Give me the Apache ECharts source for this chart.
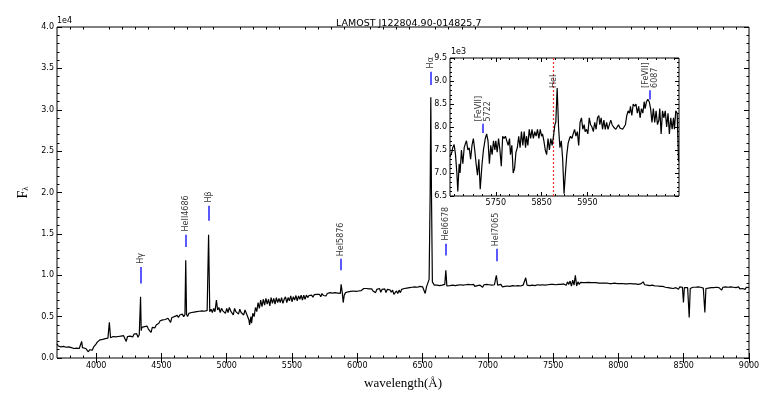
<!DOCTYPE html>
<html>
<head>
<meta charset="utf-8">
<script src="https://cdn.jsdelivr.net/npm/echarts@6/dist/echarts.min.js"></script>
<style>
html, body { margin: 0; padding: 0; background: #fff; }
#chart { width: 763px; height: 395px; }
</style>
</head>
<body>
<div id="chart"></div>
<script>
// spectrum (flux in counts, axis shows /1e4)
const wave = [3700,3710,3720,3730,3740,3750,3760,3770,3780,3790,3800,3810,3820,3830,3840,3850,3860,3870,3880,3889,3895,3910,3920,3930,3940,3950,3960,3970,3980,3990,
  4000,4010,4020,4030,4040,4050,4060,4070,4080,4090,4101,4110,4120,4130,4140,4150,4160,4170,4180,4190,4200,4210,4220,4230,4240,4250,4260,4270,4280,4290,
  4300,4310,4320,4330,4340,4345,4350,4360,4370,4380,4390,4400,4410,4420,4430,4440,4450,4460,4470,4480,4490,4500,4510,4520,4530,4540,4550,4560,4570,4580,
  4590,4600,4610,4620,4630,4640,4650,4660,4670,4680,4686,4692,4700,4710,4720,4730,4740,4750,4760,4770,4780,4790,4800,4810,4820,4830,4840,4850,4861,4870,
  4880,4890,4900,4910,4921,4930,4940,4950,4960,4970,4980,4990,5000,5010,5020,5030,5040,5050,5060,5070,5080,5090,5100,5110,5120,5130,5140,5150,5160,5170,
  5175,5185,5190,5200,5210,5220,5230,5240,5250,5260,5270,5280,5290,5300,5310,5320,5330,5340,5350,5360,5370,5380,5390,5400,5410,5420,5430,5440,5450,5460,
  5470,5480,5490,5500,5510,5520,5530,5540,5550,5560,5570,5580,5590,5600,5610,5620,5630,5640,5650,5660,5670,5680,5690,5700,5710,5720,5730,5740,5750,5760,
  5770,5780,5790,5800,5810,5820,5830,5840,5850,5860,5870,5876,5885,5892,5900,5910,5920,5930,5940,5950,5960,5970,5980,5990,6000,6010,6020,6030,6040,6050,
  6060,6070,6080,6090,6100,6110,6120,6130,6140,6150,6160,6170,6180,6190,6200,6210,6220,6230,6240,6250,6260,6270,6280,6290,6300,6310,6320,6330,6340,6350,
  6360,6370,6380,6390,6400,6410,6420,6430,6440,6450,6460,6470,6480,6490,6500,6510,6520,6530,6540,6550,6558,6563,6568,6575,6590,6600,6610,6620,6630,6640,
  6650,6660,6670,6678,6686,6700,6710,6720,6730,6740,6750,6760,6770,6780,6790,6800,6810,6820,6830,6840,6850,6860,6870,6880,6890,6900,6910,6920,6930,6940,
  6950,6960,6970,6980,6990,7000,7010,7020,7030,7040,7050,7065,7075,7090,7100,7110,7120,7130,7140,7150,7160,7170,7180,7190,7200,7210,7220,7230,7240,7250,
  7260,7270,7280,7290,7300,7310,7320,7330,7340,7350,7360,7370,7380,7390,7400,7410,7420,7430,7440,7450,7460,7470,7480,7490,7500,7510,7520,7530,7540,7550,
  7560,7570,7580,7590,7600,7610,7620,7630,7640,7650,7660,7670,7680,7690,7700,7710,7720,7730,7740,7750,7760,7770,7780,7790,7800,7810,7820,7830,7840,7850,
  7860,7870,7880,7890,7900,7910,7920,7930,7940,7950,7960,7970,7980,7990,8000,8010,8020,8030,8040,8050,8060,8070,8080,8090,8100,8110,8120,8130,8140,8150,
  8160,8170,8180,8190,8200,8210,8220,8230,8240,8250,8260,8270,8280,8290,8300,8310,8320,8330,8340,8350,8360,8370,8380,8390,8400,8410,8420,8430,8440,8450,
  8460,8470,8480,8490,8498,8505,8520,8530,8542,8550,8560,8570,8580,8590,8600,8610,8620,8630,8640,8650,8662,8670,8680,8690,8700,8710,8720,8730,8740,8750,
  8760,8770,8780,8790,8800,8810,8820,8830,8840,8850,8860,8870,8880,8890,8900,8910,8920,8930,8940,8950,8960,8970,8980,8990,9000];
const flux = [1700,1450,1600,1350,1500,1400,1550,1300,1450,1350,1500,1250,1400,1150,1300,1200,1350,1150,1300,2000,1250,1350,1150,1250,750,1000,1100,950,1300,1500,
  1700,1950,2050,2200,2100,2250,2200,2350,2250,2400,4300,2450,2350,2600,2450,2550,2450,2600,2500,2650,2500,2700,2600,2000,2600,2750,2650,2800,2550,2900,
  2700,2950,2500,2800,7400,3300,3700,3500,3800,3600,3850,3500,3650,3100,3700,3850,3650,4000,3900,4200,4500,4350,4600,4400,4650,4500,4800,4600,4300,4900,
  4750,5000,4800,5150,4900,5200,5050,5300,5000,5250,11800,5300,5000,5400,5200,5500,5300,5550,5350,5600,5400,5650,5450,5700,5500,5650,5550,5750,14900,5600,
  5900,5500,6000,5600,7000,5800,6100,5500,6000,5700,5900,5400,6000,5500,6100,5700,5900,5200,6000,5600,5800,5300,5900,5500,5700,5200,5800,5400,5600,4600,
  4000,5000,4200,5400,5000,6100,5600,6700,6000,7000,6200,7100,6400,7200,6500,7100,6300,7300,6600,7200,6500,7300,6700,7200,6700,7300,6600,7100,7400,6700,
  7300,6900,7500,6800,7400,7000,7550,6900,7500,7100,7600,7000,7600,7100,7600,7300,7550,7400,7600,7350,7650,7450,7700,7500,7700,7400,7800,7550,7750,7500,
  7800,7600,7900,7700,7850,7650,7900,7750,7850,7700,7800,8900,7900,6700,7600,7900,7850,8000,7900,8050,7950,8100,7950,8050,8000,8100,8050,8150,8100,8400,
  8250,8400,8300,8350,8200,8350,8100,8300,7900,8300,8200,8400,7950,8300,8100,8350,7900,8300,8150,8250,7950,8200,7700,7900,8100,7800,8200,7900,8300,8100,
  8400,8200,8450,8300,8500,8350,8550,8400,8600,8450,8550,8500,8650,8500,8600,8550,7800,8600,8700,9500,20000,31500,20000,9200,8800,8600,8800,8600,8750,8650,
  8800,8700,8900,10600,8700,8650,8750,8600,8800,8700,8750,8650,8800,8700,8850,8700,8800,8650,8850,8750,8900,8700,8850,8750,8900,8650,8850,8750,8900,8800,
  8850,8550,8850,8700,8900,8700,8850,8750,8800,8650,8850,10000,8800,8700,8900,8600,8800,8650,8850,8700,8900,8650,8850,8750,8900,8700,8850,8750,8900,8700,
  8850,8800,8950,9700,8800,8900,8750,8950,8800,8900,8750,8950,8850,8950,8800,8950,8850,9000,8800,8950,8850,9000,8900,9050,8900,9000,8850,9050,8900,9100,
  8900,9050,8950,9150,8800,9200,8900,9300,8700,9400,8800,10000,8700,9200,8900,9150,8950,9100,8950,9100,9000,9150,8950,9100,9000,9100,8950,9100,8950,9050,
  8900,9050,8850,9050,8950,9050,8900,9000,8850,9000,8900,9050,8850,9000,8900,9000,8800,9000,8850,8950,8800,8950,8850,9000,8800,8950,8750,8950,8850,8900,
  8800,8950,8850,9200,8850,8950,8800,8900,8750,8900,8800,8850,8700,8850,8700,8850,8650,8800,8650,8750,8550,8700,8500,8650,8450,8650,8400,8600,8500,8650,
  8300,8600,8400,8550,6700,8500,8600,8500,4900,8400,8600,8550,8650,8550,8650,8600,8650,8550,8600,8450,5500,8400,8550,8450,8600,8500,8650,8500,8600,8550,
  8600,8500,8600,8200,8550,8450,8600,8500,8550,8400,8600,8450,8550,8450,8500,8400,8600,8350,8550,8400,8550,8300,8550,8400,8500];

// zoomed region around HeI 5876
const insetWave = [5650,5654,5656,5659,5662,5665,5667,5670,5672,5675,5678,5681,5684,5686,5689,5692,5695,5698,5701,5704,5707,5710,5713,5716,5720,5723,5727,
  5730,5733,5736,5739,5742,5745,5748,5750,5753,5756,5759,5762,5765,5768,5771,5774,5777,5780,5782,5785,5788,5791,5794,5797,5800,5803,5806,5809,5812,5815,5817,
  5820,5823,5826,5829,5832,5835,5838,5841,5844,5847,5850,5852,5855,5858,5861,5864,5867,5870,5873,5876,5879,5881,5884,5887,5890,5893,5896,5899,5902,5905,5908,
  5911,5913,5916,5919,5922,5925,5928,5931,5934,5937,5940,5943,5945,5948,5951,5954,5957,5960,5963,5966,5969,5972,5975,5977,5980,5983,5986,5989,5992,5995,5998,
  6001,6004,6007,6009,6012,6015,6018,6021,6024,6027,6030,6033,6036,6039,6042,6044,6047,6050,6053,6056,6059,6062,6065,6068,6071,6074,6076,6079,6082,6085,6088,
  6091,6094,6097,6100,6103,6106,6108,6111,6114,6117,6120,6123,6126,6129,6132,6135,6138,6140,6143,6146,6149];
const insetFlux = [7350,7450,7550,7620,7400,7000,6600,7200,7000,7500,7200,7550,7650,7700,7500,7550,7300,7600,7750,7500,7200,6950,7300,6650,7200,7500,7750,
  7850,7700,7200,7600,7400,7700,7500,7700,7450,7750,7500,7150,7800,7750,7800,7700,7600,7750,7400,7600,7000,7100,7450,7550,7800,7550,7900,7600,7900,7550,7800,
  7600,7950,7750,7950,7750,7900,7800,7950,7750,7950,7800,7850,7700,7500,7400,7750,7500,7750,7600,7800,8050,8100,8850,8000,7550,7700,7300,6550,7000,7400,7650,
  7750,7800,7750,7850,7950,7800,7900,7600,8100,8200,7950,8050,7900,7950,7850,8200,8050,8000,7900,8100,7950,8200,8250,8050,8200,7950,8150,7950,8100,7950,8050,
  8150,8050,8000,8000,7950,7950,8050,7980,8000,7950,8000,8050,8250,8350,8300,8450,8250,8500,8450,8500,8300,8450,8200,8400,8300,8550,8400,8550,8600,8550,8400,
  8100,8400,8100,8350,8050,8150,8400,7850,8350,8200,8350,8000,8300,7850,8200,7950,8200,7950,8350,8300,7250];

// emission line markers in the main panel
const lineNames = ['Hγ', 'HeII4686', 'Hβ', 'HeI5876', 'Hα', 'HeI6678', 'HeI7065'];
const lineWaves = [4340, 4686, 4861, 5876, 6563, 6678, 7065];
const markLo = [9000, 13400, 16600, 10600, 33000, 12400, 11700];
const markHi = [11000, 14900, 18400, 12000, 34600, 13800, 13200];
const labelAt = [11400, 15300, 18800, 12300, 35000, 14200, 13500];

// markers in the inset
const insetNames = ['[FeVII]\n5722', 'HeI', '[FeVII]\n6087'];
const insetLineWaves = [5722, 5876, 6087];
const insetMarkWaves = [5722, 6087];
const insetMarkLo = [7870, 8600];
const insetMarkHi = [8070, 8800];
const insetLabelAt = [8120, 8850, 8850];
const heIWave = 5876;

const mainXTicks = [4000, 4500, 5000, 5500, 6000, 6500, 7000, 7500, 8000, 8500, 9000];
const insetXTicks = [5750, 5850, 5950];

const mainXMinor = [];
for (let v = 3800; v < 9000; v += 100) if (v % 500 !== 0) mainXMinor.push(v);
const insetXMinor = [];
for (let v = 5660; v < 6150; v += 20) if ((v - 5750) % 100 !== 0) insetXMinor.push(v);

const sans = 'DejaVu Sans';
const fs = 8;

function tickAxis(extra) {
  return Object.assign({
    type: 'value',
    axisLine: { show: false },
    splitLine: { show: false },
    axisLabel: { show: false },
    axisTick: { show: true, inside: true, length: 5, lineStyle: { color: '#000' } }
  }, extra);
}
function ticks(values, len) {
  return { show: true, inside: true, length: len, customValues: values, lineStyle: { color: '#000' } };
}

const chart = echarts.init(document.getElementById('chart'));

const option = {
  animation: false,
  backgroundColor: '#fff',
  title: {
    text: 'LAMOST J122804.90-014825.7',
    left: 331, top: 14,
    textStyle: { fontFamily: sans, fontSize: 9.5, fontWeight: 'normal', color: '#000' }
  },
  grid: [
    { left: 57, right: 14, top: 27, bottom: 33, show: true, borderColor: '#000', borderWidth: 1 },
    { left: 450, top: 58, width: 229, height: 138, show: true, borderColor: '#000', borderWidth: 1,
      backgroundColor: '#fff', z: 5 }
  ],
  xAxis: [
    tickAxis({ gridIndex: 0, position: 'bottom', min: 3700, max: 9000,
      axisLabel: { show: true, customValues: mainXTicks, fontFamily: sans, fontSize: fs, color: '#000', margin: 4,
        formatter: v => String(v) },
      axisTick: ticks(mainXTicks, 5),
      name: 'wavelength(Å)', nameLocation: 'middle', nameGap: 19,
      nameTextStyle: { fontFamily: 'Liberation Serif', fontSize: 13, color: '#000' } }),
    tickAxis({ gridIndex: 0, position: 'top', min: 3700, max: 9000, axisTick: ticks(mainXTicks, 5) }),
    tickAxis({ gridIndex: 0, position: 'bottom', min: 3700, max: 9000, axisTick: ticks(mainXMinor, 2.5) }),
    tickAxis({ gridIndex: 0, position: 'top', min: 3700, max: 9000, axisTick: ticks(mainXMinor, 2.5) }),
    tickAxis({ gridIndex: 1, position: 'bottom', min: 5650, max: 6150, z: 6,
      axisLabel: { show: true, customValues: insetXTicks, fontFamily: sans, fontSize: fs, color: '#000', margin: 3,
        formatter: v => String(v) },
      axisTick: ticks(insetXTicks, 4) }),
    tickAxis({ gridIndex: 1, position: 'top', min: 5650, max: 6150, z: 6, axisTick: ticks(insetXTicks, 4) }),
    tickAxis({ gridIndex: 1, position: 'bottom', min: 5650, max: 6150, z: 6, axisTick: ticks(insetXMinor, 2) }),
    tickAxis({ gridIndex: 1, position: 'top', min: 5650, max: 6150, z: 6, axisTick: ticks(insetXMinor, 2) })
  ],
  yAxis: [
    tickAxis({ gridIndex: 0, position: 'left', min: 0, max: 40000, interval: 5000,
      axisLabel: { show: true, fontFamily: sans, fontSize: fs, color: '#000', margin: 3,
        formatter: v => (v / 1e4).toFixed(1) },
      minorTick: { show: true, splitNumber: 5, length: 2.5, lineStyle: { color: '#000' } },
      name: '{f|F}{l|λ}', nameLocation: 'middle', nameGap: 24, nameRotate: 90,
      nameTextStyle: { rich: {
        f: { fontFamily: 'Liberation Serif', fontSize: 14, color: '#000' },
        l: { fontFamily: 'Liberation Serif', fontSize: 9, color: '#000', padding: [6, 0, 0, 0] } } } }),
    tickAxis({ gridIndex: 0, position: 'right', min: 0, max: 40000, interval: 5000,
      minorTick: { show: true, splitNumber: 5, length: 2.5, lineStyle: { color: '#000' } } }),
    tickAxis({ gridIndex: 1, position: 'left', min: 6500, max: 9500, interval: 500, z: 6,
      axisLabel: { show: true, fontFamily: sans, fontSize: fs, color: '#000', margin: 3,
        formatter: v => (v / 1e3).toFixed(1) },
      axisTick: { show: true, inside: true, length: 4, lineStyle: { color: '#000' } },
      minorTick: { show: true, splitNumber: 5, length: 2, lineStyle: { color: '#000' } } }),
    tickAxis({ gridIndex: 1, position: 'right', min: 6500, max: 9500, interval: 500, z: 6,
      axisTick: { show: true, inside: true, length: 4, lineStyle: { color: '#000' } },
      minorTick: { show: true, splitNumber: 5, length: 2, lineStyle: { color: '#000' } } })
  ],
  graphic: [
    { type: 'text', left: 57, top: 17, style: { text: '1e4', font: fs + 'px "DejaVu Sans"', fill: '#000' } },
    { type: 'text', left: 451, top: 48, z: 10, style: { text: '1e3', font: fs + 'px "DejaVu Sans"', fill: '#000' } }
  ],
  series: [
    {
      type: 'line', xAxisIndex: 0, yAxisIndex: 0, showSymbol: false, silent: true,
      data: wave.map((w, i) => [w, flux[i]]),
      lineStyle: { color: '#000', width: 1.2 },
      markLine: {
        symbol: 'none', silent: true, label: { show: false },
        lineStyle: { color: '#3030ff', width: 1.6, type: 'solid' },
        data: lineWaves.map((w, i) => [{ coord: [w, markLo[i]] }, { coord: [w, markHi[i]] }])
      }
    },
    {
      type: 'scatter', xAxisIndex: 0, yAxisIndex: 0, symbolSize: 0, silent: true,
      data: lineWaves.map((w, i) => ({ value: [w, labelAt[i]], name: lineNames[i] })),
      label: { show: true, position: 'inside', rotate: 90, align: 'left', verticalAlign: 'middle',
        formatter: p => p.name, fontFamily: sans, fontSize: fs, color: '#000' }
    },
    {
      type: 'line', xAxisIndex: 4, yAxisIndex: 2, showSymbol: false, silent: true, z: 7,
      data: insetWave.map((w, i) => [w, insetFlux[i]]),
      lineStyle: { color: '#000', width: 1.2 },
      markLine: {
        symbol: 'none', silent: true, label: { show: false },
        lineStyle: { color: '#3030ff', width: 1.6, type: 'solid' },
        data: insetMarkWaves.map((w, i) => [{ coord: [w, insetMarkLo[i]] }, { coord: [w, insetMarkHi[i]] }])
      }
    },
    {
      type: 'scatter', xAxisIndex: 4, yAxisIndex: 2, symbolSize: 0, silent: true, z: 8,
      data: insetLineWaves.map((w, i) => ({ value: [w, insetLabelAt[i]], name: insetNames[i] })),
      label: { show: true, position: 'inside', rotate: 90, align: 'left', verticalAlign: 'middle',
        formatter: p => p.name, fontFamily: sans, fontSize: fs, lineHeight: 9, color: '#000' },
      markLine: {
        symbol: 'none', silent: true, label: { show: false },
        lineStyle: { color: '#e8302a', width: 1.2, type: [2, 2] },
        data: [{ xAxis: heIWave }]
      }
    }
  ]
};

chart.setOption(option);
</script>
</body>
</html>
